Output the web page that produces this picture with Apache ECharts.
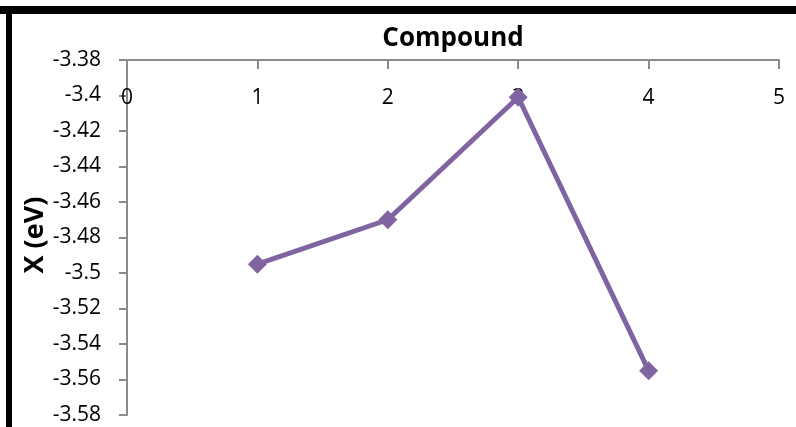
<!DOCTYPE html>
<html>
<head>
<meta charset="utf-8">
<script src="https://cdn.jsdelivr.net/npm/echarts@6/dist/echarts.min.js"></script>
<style>
  html, body { margin: 0; padding: 0; background: #ffffff; }
  #chart { width: 796px; height: 427px; }
</style>
</head>
<body>
<div id="chart"></div>
<script>
// Electronegativity X (eV) per compound
const compounds = [1, 2, 3, 4];
const xValues = [-3.495, -3.47, -3.401, -3.555];

const yTicks = { min: -3.58, max: -3.38, step: 0.02 };
const xTicks = { min: 0, max: 5, step: 1 };

const points = compounds.map((c, i) => [c, xValues[i]]);

const chart = echarts.init(document.getElementById('chart'), null, { renderer: 'canvas' });

const axisGray = '#8a8a8a';
const font = 'Open Sans';

chart.setOption({
  animation: false,
  backgroundColor: '#ffffff',
  grid: { left: 127, top: 60, right: 17, bottom: 12, containLabel: false },
  xAxis: {
    type: 'value',
    position: 'top',
    min: xTicks.min,
    max: xTicks.max,
    interval: xTicks.step,
    name: 'Compound',
    nameLocation: 'middle',
    nameGap: 8,
    nameTextStyle: { fontFamily: font, fontWeight: 'bold', fontSize: 26, color: '#000' },
    axisLine: { show: true, lineStyle: { color: axisGray, width: 2 } },
    axisTick: { show: true, inside: true, length: 9, lineStyle: { color: axisGray, width: 2 } },
    axisLabel: { inside: true, margin: 28, fontFamily: font, fontSize: 21, color: '#000' },
    splitLine: { show: false }
  },
  yAxis: {
    type: 'value',
    min: yTicks.min,
    max: yTicks.max,
    interval: yTicks.step,
    axisLine: { show: true, lineStyle: { color: axisGray, width: 2 } },
    axisTick: { show: true, inside: false, length: 8, lineStyle: { color: axisGray, width: 2 } },
    axisLabel: {
      margin: 26,
      fontFamily: font,
      fontSize: 21,
      color: '#000',
      formatter: v => String(parseFloat(v.toFixed(2)))
    },
    splitLine: { show: false }
  },
  series: [{
    type: 'line',
    data: points,
    symbol: 'diamond',
    symbolSize: 19,
    lineStyle: { color: '#8064A2', width: 5 },
    itemStyle: { color: '#8064A2' }
  }],
  graphic: [
    { type: 'rect', shape: { x: 0, y: 6, width: 796, height: 8 }, style: { fill: '#000' }, silent: true },
    { type: 'rect', shape: { x: 6, y: 6, width: 6, height: 421 }, style: { fill: '#000' }, silent: true },
    {
      type: 'text',
      x: 35, y: 235,
      rotation: Math.PI / 2,
      style: {
        text: 'X (eV)',
        fontFamily: font, fontWeight: 'bold', fontSize: 27, fill: '#000',
        align: 'center', verticalAlign: 'middle'
      },
      silent: true
    }
  ]
});
</script>
</body>
</html>
